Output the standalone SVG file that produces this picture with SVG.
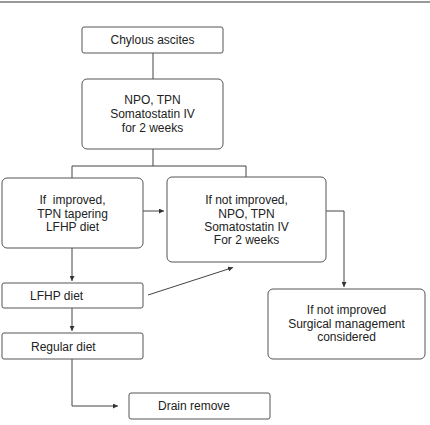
<svg xmlns="http://www.w3.org/2000/svg" width="430" height="425" viewBox="0 0 430 425">
<defs>
<marker id="ah" viewBox="0 0 6 6" refX="6" refY="3" markerWidth="5" markerHeight="5" orient="auto" markerUnits="userSpaceOnUse">
<path d="M0,0 L6,3 L0,6 z" fill="#333"/>
</marker>
<style>
.box{fill:#fff;stroke:#555;stroke-width:1}
.t{font-family:"Liberation Sans",Arial,sans-serif;font-size:12px;fill:#222;text-anchor:middle}
.tl{font-family:"Liberation Sans",Arial,sans-serif;font-size:12px;fill:#222}
.c{fill:none;stroke:#444;stroke-width:1}
.a{fill:none;stroke:#444;stroke-width:1;marker-end:url(#ah)}
</style>
</defs>
<rect width="430" height="425" fill="#fff"/>
<line x1="0" y1="2" x2="430" y2="2" stroke="#777" stroke-width="1.5"/>
<g id="connectors">
<line class="c" x1="153" y1="53" x2="153" y2="79"/>
<polyline class="c" points="153,149 153,166"/>
<polyline class="c" points="72,178 72,166 246,166 246,177"/>
<line class="a" x1="143" y1="211" x2="164" y2="211"/>
<polyline class="a" points="326,211 344,211 344,287"/>
<line class="a" x1="72" y1="248" x2="72" y2="281"/>
<line class="a" x1="148" y1="295" x2="233" y2="267.5"/>
<line class="a" x1="72" y1="308" x2="72" y2="331"/>
<polyline class="a" points="72,359 72,406 118,406"/>
</g>
<g id="n1"><rect class="box" x="82" y="27" width="141" height="26" rx="2"/><text class="t" x="152.5" y="44">Chylous ascites</text></g>
<g id="n2"><rect class="box" x="82" y="79" width="141" height="70" rx="5"/>
<text class="t" x="152.5" y="104">NPO, TPN</text><text class="t" x="152.5" y="118">Somatostatin IV</text><text class="t" x="152.5" y="132">for 2 weeks</text></g>
<g id="n3"><rect class="box" x="2" y="178" width="141" height="70" rx="5"/>
<text class="t" x="72.5" y="204" xml:space="preserve">If  improved,</text><text class="t" x="72.5" y="217.5">TPN tapering</text><text class="t" x="72.5" y="231">LFHP diet</text></g>
<g id="n4"><rect class="box" x="167" y="177" width="159" height="85" rx="5"/>
<text class="t" x="246.5" y="204">If not improved,</text><text class="t" x="246.5" y="217.5">NPO, TPN</text><text class="t" x="246.5" y="231">Somatostatin IV</text><text class="t" x="246.5" y="244">For 2 weeks</text></g>
<g id="n5"><rect class="box" x="2" y="283" width="141" height="25" rx="2"/><text class="tl" x="30" y="300">LFHP diet</text></g>
<g id="n6"><rect class="box" x="2" y="333" width="141" height="26" rx="2"/><text class="tl" x="31" y="351">Regular diet</text></g>
<g id="n7"><rect class="box" x="268" y="289" width="157" height="70" rx="5"/>
<text class="t" x="346.5" y="314">If not improved</text><text class="t" x="346.5" y="327.5">Surgical management</text><text class="t" x="346.5" y="341">considered</text></g>
<g id="n8"><rect class="box" x="129" y="393" width="141" height="26" rx="2"/><text class="t" x="194" y="410">Drain remove</text></g>
</svg>
